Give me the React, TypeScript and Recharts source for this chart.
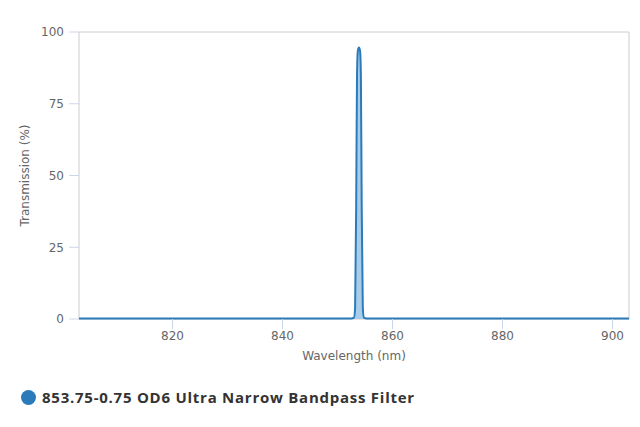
import React from "react";
import { ComposedChart, Area, XAxis, YAxis, ReferenceArea } from "recharts";

const wavelengths = [803, 820, 840, 852.5, 853.0, 853.2, 853.4, 853.55, 853.7, 853.9, 854.1, 854.25, 854.4, 854.6, 854.8, 855.3, 860, 880, 903];
const transmission = [0.2, 0.2, 0.2, 0.2, 0.5, 4, 40, 85, 93.5, 94.6, 93.5, 85, 40, 4, 0.5, 0.2, 0.2, 0.2, 0.2];
const xTicks = [820, 840, 860, 880, 900];
const yTicks = [0, 25, 50, 75, 100];
const seriesName = "853.75-0.75 OD6 Ultra Narrow Bandpass Filter";

const data = wavelengths.map((w, i) => ({ w, t: transmission[i] }));

const tickFont = { fontFamily: "DejaVu Sans", fontSize: 12, fill: "#666" };

export default function App() {
  return (
    <div style={{ position: "absolute", left: 0, top: 0, width: 640, height: 427, background: "#fff" }}>
      <ComposedChart width={640} height={380} data={data} margin={{ top: 32, right: 11, bottom: 0, left: 0 }}>
        <XAxis
          dataKey="w"
          type="number"
          domain={[803, 903]}
          ticks={xTicks}
          allowDataOverflow
          axisLine={false}
          tickLine={{ stroke: "#ccd6eb" }}
          tickSize={10}
          tickMargin={2}
          tick={tickFont}
          height={61}
          label={{ value: "Wavelength (nm)", position: "insideBottom", offset: 20, style: { ...tickFont, fontSize: 12, fill: "#666" } }}
        />
        <YAxis
          type="number"
          domain={[0, 100]}
          ticks={yTicks}
          axisLine={false}
          tickLine={{ stroke: "#ccd6eb" }}
          tickSize={10}
          tickMargin={5}
          tick={tickFont}
          width={79}
          label={{ value: "Transmission (%)", angle: -90, position: "insideLeft", offset: 25, style: { ...tickFont, fontSize: 12, fill: "#666", textAnchor: "middle" } }}
        />
        <ReferenceArea x1={803} x2={903} y1={0} y2={100} fill="none" stroke="#cccccc" strokeWidth={1} ifOverflow="visible" />
        <Area
          type="monotone"
          dataKey="t"
          stroke="#2b7bba"
          strokeWidth={2}
          fill="#a9cde8"
          fillOpacity={1}
          isAnimationActive={false}
          dot={false}
          activeDot={false}
        />
      </ComposedChart>
      <div style={{ position: "absolute", left: 21, top: 387, display: "flex", alignItems: "center" }}>
        <span style={{ display: "inline-block", width: 15, height: 15, borderRadius: "50%", background: "#2b7bba", marginRight: 6 }} />
        <span style={{ fontFamily: "Open Sans", fontWeight: 700, fontSize: 15, color: "#333", letterSpacing: 0.75 }}>{seriesName}</span>
      </div>
    </div>
  );
}
